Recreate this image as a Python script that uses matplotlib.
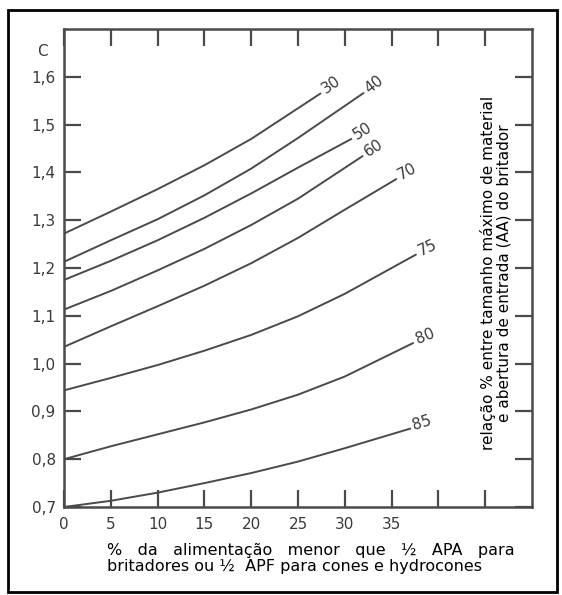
import matplotlib.pyplot as plt
from matplotlib.patches import Rectangle

# curve values (x = % feed below 1/2 APA, c = factor C)
labels = ["30", "40", "50", "60", "70", "75", "80", "85"]

x_30 = [0, 5, 10, 15, 20, 27.4]
c_30 = [1.272, 1.318, 1.365, 1.415, 1.470, 1.565]

x_40 = [0, 5, 10, 15, 20, 25, 32.0]
c_40 = [1.213, 1.258, 1.302, 1.352, 1.408, 1.472, 1.566]

x_50 = [0, 5, 10, 15, 20, 25, 30.7]
c_50 = [1.175, 1.215, 1.258, 1.305, 1.356, 1.410, 1.470]

x_60 = [0, 5, 10, 15, 20, 25, 31.9]
c_60 = [1.113, 1.152, 1.195, 1.240, 1.290, 1.345, 1.434]

x_70 = [0, 5, 10, 15, 20, 25, 30, 35.5]
c_70 = [1.035, 1.078, 1.120, 1.163, 1.210, 1.263, 1.322, 1.386]

x_75 = [0, 5, 10, 15, 20, 25, 30, 37.6]
c_75 = [0.944, 0.970, 0.997, 1.027, 1.060, 1.099, 1.146, 1.228]

x_80 = [0, 5, 10, 15, 20, 25, 30, 37.3]
c_80 = [0.800, 0.827, 0.852, 0.877, 0.904, 0.935, 0.973, 1.043]

x_85 = [0, 5, 10, 15, 20, 25, 30, 37.0]
c_85 = [0.700, 0.713, 0.730, 0.750, 0.771, 0.795, 0.823, 0.864]

xs = [x_30, x_40, x_50, x_60, x_70, x_75, x_80, x_85]
cs = [c_30, c_40, c_50, c_60, c_70, c_75, c_80, c_85]
rots = [35, 38, 32, 32, 28, 25, 22, 17]

x_ticks = [0, 5, 10, 15, 20, 25, 30, 35, 40, 45]
x_ticklabels = ["0", "5", "10", "15", "20", "25", "30", "35", "", ""]
y_ticks = [0.7, 0.8, 0.9, 1.0, 1.1, 1.2, 1.3, 1.4, 1.5, 1.6]
y_ticklabels = ["0,7", "0,8", "0,9", "1,0", "1,1", "1,2", "1,3", "1,4", "1,5", "1,6"]

line_col = "#4a4a4a"
text_col = "#3a3a3a"

fig = plt.figure(figsize=(5.62, 5.95), dpi=100)
ax = fig.add_axes([64 / 562, 1 - 507 / 595, 468 / 562, 478 / 595])

for lab, x, c, r in zip(labels, xs, cs, rots):
    ax.plot(x, c, color=line_col, lw=1.4, solid_capstyle="round", solid_joinstyle="round")
    ax.annotate(lab, xy=(x[-1], c[-1]), xytext=(2, 2), textcoords="offset points",
                rotation=r, rotation_mode="anchor", ha="left", va="center",
                fontsize=11, color=text_col)

ax.set_xlim(0, 50)
ax.set_ylim(0.7, 1.7)
ax.set_xticks(x_ticks)
ax.set_xticklabels(x_ticklabels)
ax.set_yticks(y_ticks)
ax.set_yticklabels(y_ticklabels)
ax.tick_params(direction="in", length=12, width=1.6, top=True, right=True,
               labelsize=11, color=line_col, labelcolor=text_col)
ax.tick_params(axis="x", pad=7)
ax.tick_params(axis="y", pad=6)
for s in ax.spines.values():
    s.set_color(line_col)
    s.set_linewidth(1.8)

fig.text(42 / 562, 1 - 52 / 595, "C", ha="center", va="center", fontsize=11, color=text_col)

fig.text(496 / 562, 1 - 273 / 595,
         "relação % entre tamanho máximo de material\ne abertura de entrada (AA) do britador",
         rotation=90, ha="center", va="center", multialignment="center",
         fontsize=11, linespacing=1.0, color="black")

fig.text(107 / 562, 1 - 551 / 595, "%   da   alimentação   menor   que   ½   APA   para",
         ha="left", va="center", fontsize=11.5, color="black")
fig.text(107 / 562, 1 - 566 / 595, "britadores ou ½  APF para cones e hydrocones",
         ha="left", va="center", fontsize=11.5, color="black")

fig.patches.append(Rectangle((8 / 562, 1 - 592 / 595), 549 / 562, 582 / 595,
                             transform=fig.transFigure, fill=False, lw=2, ec="black"))

fig.savefig("out.png", dpi=100)
